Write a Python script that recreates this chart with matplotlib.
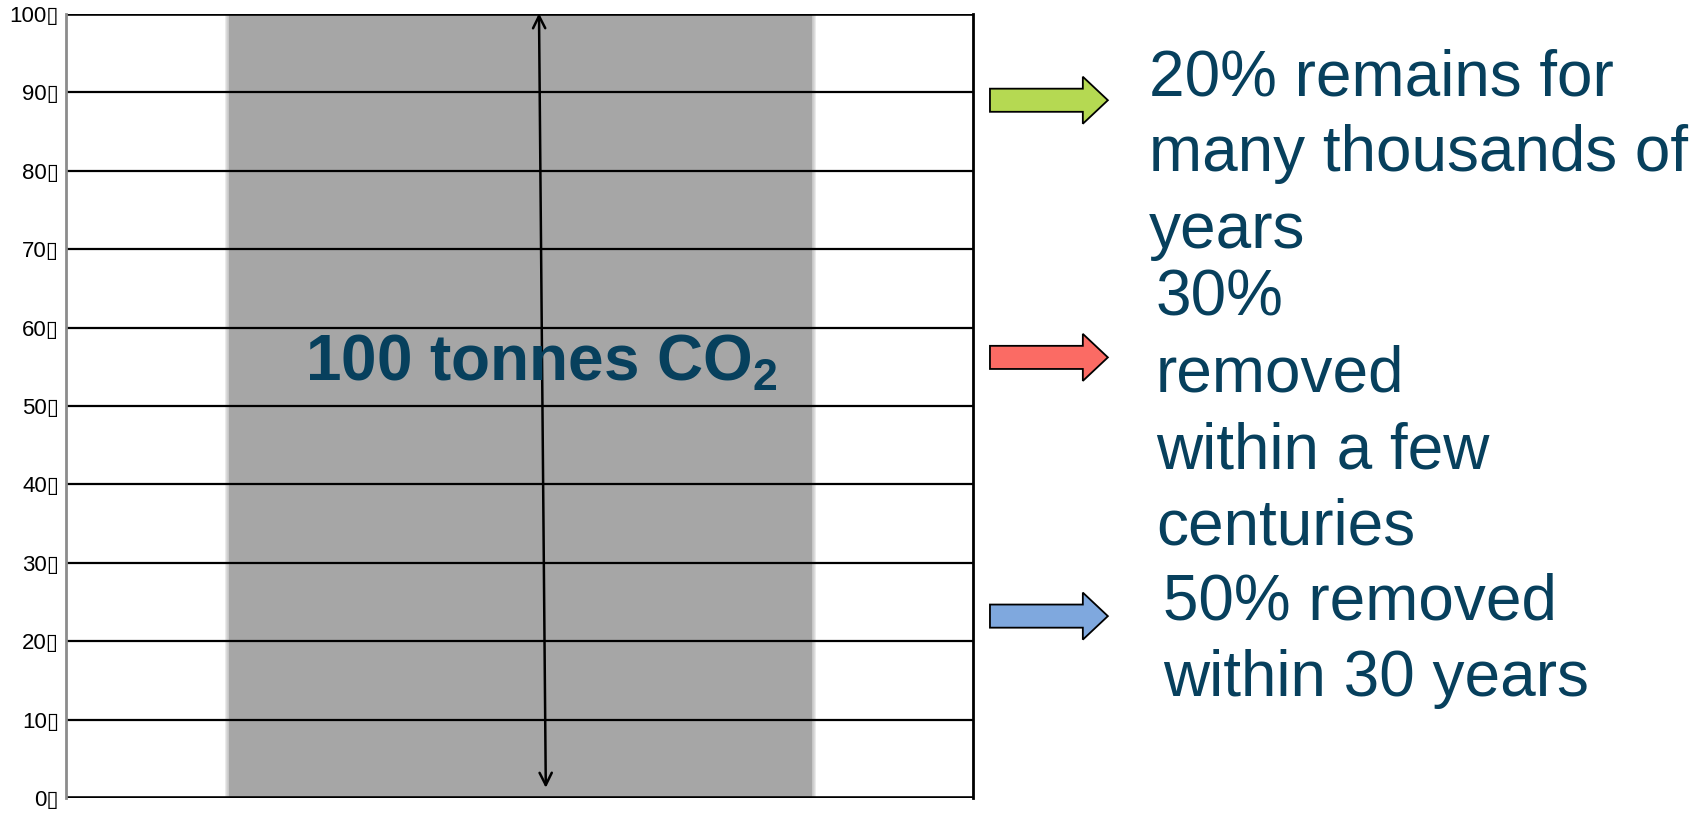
import matplotlib
matplotlib.use("Agg")
import matplotlib.pyplot as plt
from matplotlib.patches import FancyArrow
from matplotlib.transforms import blended_transform_factory

# chart data
tick_values = [0, 10, 20, 30, 40, 50, 60, 70, 80, 90, 100]
tick_labels = [f"{v}\u25af" for v in tick_values]
bar_total = [100]
bar_label = "100 tonnes CO$_2$"

arrow_levels = [89.0, 56.2, 23.2]
arrow_colors = ["#b5d952", "#fb6b64", "#7fa8de"]
notes = [
    ["20% remains for", "many thousands of", "years"],
    ["30%", "removed", "within a few", "centuries"],
    ["50% removed", "within 30 years"],
]

TEXT_COLOR = "#07405d"
W, H = 1701, 813

plt.rcParams["font.family"] = ["Liberation Sans", "DejaVu Sans"]
plt.rcParams["mathtext.fontset"] = "custom"
plt.rcParams["mathtext.rm"] = "Liberation Sans:bold"
plt.rcParams["mathtext.default"] = "rm"

fig = plt.figure(figsize=(W / 100, H / 100), dpi=100)
ax = fig.add_axes([66 / W, 15 / H, 907 / W, 784 / H])
ax.set_xlim(0, 1)
ax.set_ylim(0, 100)

# grey column with soft edges
left, right = 0.1775, 0.825
px = 1 / 907
ax.bar([(left + right) / 2], bar_total, width=right - left - 4 * px,
       color="#a6a6a6", zorder=1)
for k in range(1, 5):
    ax.bar([(left + right) / 2], bar_total, width=right - left - 4 * px + 2 * k * px,
           color="#a6a6a6", alpha=0.22, zorder=1, linewidth=0)

# horizontal grid
for v in tick_values:
    lw = 2.6 if v in (0, 100) else 1.6
    ax.axhline(v, color="black", lw=lw, zorder=2)

ax.spines["top"].set_visible(False)
ax.spines["bottom"].set_visible(False)
ax.spines["left"].set_color("#8c8c8c")
ax.spines["left"].set_linewidth(2)
ax.spines["right"].set_color("black")
ax.spines["right"].set_linewidth(2)
ax.set_xticks([])
ax.set_yticks(tick_values)
ax.set_yticklabels(tick_labels, family=["Liberation Sans Narrow", "Liberation Sans", "DejaVu Sans"],
                   fontsize=16)
ax.tick_params(axis="y", length=0, pad=5)

# double headed arrow over the column
ax.annotate("", xy=(0.5215, 100.1), xytext=(0.529, 1.3),
            xycoords=("axes fraction", "data"), textcoords=("axes fraction", "data"),
            arrowprops=dict(arrowstyle="<->", lw=1.8, color="black",
                            mutation_scale=22, shrinkA=0, shrinkB=0),
            annotation_clip=False, zorder=4)

ax.text(0.5237, 53.2, bar_label, ha="center", va="baseline", fontsize=46,
        fontweight="bold", color=TEXT_COLOR, zorder=5)

# block arrows to the right of the chart
tr = blended_transform_factory(ax.transAxes, ax.transData)
for lvl, col in zip(arrow_levels, arrow_colors):
    arr = FancyArrow(1.0187, lvl, 0.130, 0, width=2.95, head_width=6.0,
                     head_length=0.0276, length_includes_head=True,
                     transform=tr, clip_on=False, facecolor=col,
                     edgecolor="black", linewidth=1.3)
    ax.add_patch(arr)

# explanatory notes
starts = [(1149, 95), (1156, 315), (1163, 619)]
step = 76.5
for (x0, y0), lines in zip(starts, notes):
    for i, line in enumerate(lines):
        fig.text(x0 / W, 1 - (y0 + i * step) / H, line, ha="left", va="baseline",
                 fontsize=46, color=TEXT_COLOR,
                 family=["Liberation Sans Narrow", "Liberation Sans"])

fig.savefig("out.png", dpi=100)
